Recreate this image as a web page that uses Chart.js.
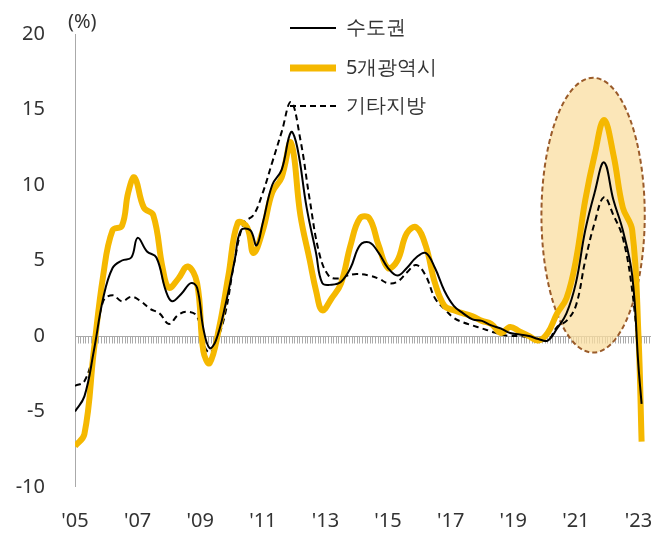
<!DOCTYPE html><html><head><meta charset="utf-8">
<script src="https://cdn.jsdelivr.net/npm/chart.js@4"></script>
<style>body{margin:0;background:#fff}#w{width:672px;height:538px}</style></head><body><div id="w"><canvas id="c"></canvas></div>
<script>
const capitalX=[2005.0,2005.3,2005.6,2005.9,2006.2,2006.5,2006.8,2007.0,2007.3,2007.6,2007.9,2008.1,2008.4,2008.7,2008.9,2009.1,2009.3,2009.5,2009.8,2010.1,2010.3,2010.6,2010.8,2011.0,2011.3,2011.6,2011.9,2012.1,2012.4,2012.7,2012.9,2013.2,2013.5,2013.8,2014.1,2014.4,2014.7,2015.0,2015.3,2015.6,2015.9,2016.2,2016.5,2016.8,2017.1,2017.4,2017.7,2018.0,2018.3,2018.6,2018.9,2019.2,2019.5,2019.8,2020.1,2020.4,2020.7,2021.0,2021.3,2021.6,2021.9,2022.2,2022.5,2022.8,2023.0,2023.1];
const capitalY=[-5,-4,-1,2.5,4.5,5,5.2,6.5,5.6,5.2,3,2.3,2.8,3.5,3.2,0.5,-0.8,-0.3,2,5,7,7,6,7.5,10,11,13.5,12.5,8.5,5.5,3.5,3.4,3.6,4.5,6,6.2,5.5,4.5,4,4.5,5.2,5.5,4.5,3,2,1.5,1.1,1,0.7,0.5,0.2,0.1,0,-0.2,-0.3,0.5,1.5,3.5,7,9.5,11.5,9,7,4,-2,-4.5];
const metroX=[2005.0,2005.3,2005.6,2005.9,2006.2,2006.5,2006.7,2006.9,2007.2,2007.5,2007.8,2008.0,2008.3,2008.6,2008.9,2009.1,2009.3,2009.6,2009.9,2010.2,2010.5,2010.7,2011.0,2011.3,2011.6,2011.9,2012.2,2012.5,2012.7,2012.9,2013.2,2013.5,2013.8,2014.1,2014.4,2014.7,2015.0,2015.3,2015.6,2015.9,2016.2,2016.5,2016.8,2017.1,2017.4,2017.7,2018.0,2018.3,2018.6,2018.9,2019.2,2019.5,2019.8,2020.1,2020.4,2020.7,2021.0,2021.3,2021.6,2021.9,2022.2,2022.5,2022.8,2023.0,2023.1];
const metroY=[-7.3,-6.5,-1,4,7,7.3,9.5,10.5,8.5,8,4.5,3.2,3.8,4.6,3.5,-1,-1.8,0.5,4,7.5,7.2,5.5,7,9.5,10.5,12.8,8,5,3,1.7,2.5,3.5,6,7.8,7.8,6,4.5,5,6.8,7.2,6,3.5,2,1.7,1.5,1.3,1,0.8,0.2,0.6,0.3,0,-0.3,0.2,1.5,2.5,5,9,12,14.3,12,8.5,7,0,-7];
const otherX=[2005.0,2005.3,2005.6,2005.9,2006.2,2006.5,2006.8,2007.1,2007.4,2007.7,2008.0,2008.3,2008.6,2008.9,2009.1,2009.3,2009.5,2009.8,2010.1,2010.4,2010.7,2011.0,2011.3,2011.6,2011.9,2012.2,2012.5,2012.8,2013.1,2013.4,2013.7,2014.0,2014.4,2014.7,2015.0,2015.3,2015.6,2015.9,2016.2,2016.5,2016.8,2017.1,2017.4,2017.7,2018.0,2018.3,2018.6,2018.9,2019.2,2019.5,2019.8,2020.1,2020.4,2020.7,2021.0,2021.3,2021.6,2021.9,2022.2,2022.5,2022.8,2023.0,2023.1];
const otherY=[-3.3,-3,-1,2.3,2.7,2.3,2.6,2.3,1.8,1.5,0.8,1.4,1.6,1.3,-0.5,-1.1,-0.5,1.5,5,7.5,8,9.5,11.5,13.5,15.5,13,9,5.5,4,3.8,4,4.1,4,3.8,3.5,3.6,4.2,4.7,4,2.5,1.8,1.2,0.9,0.7,0.5,0.3,0.1,0,0,-0.1,-0.2,-0.3,0.6,1,2,5,7.5,9.2,8,6.5,3,-1.5,-4.5];
const seriesNames=['수도권','5개광역시','기타지방'];
const xTickYears=[2005,2007,2009,2011,2013,2015,2017,2019,2021,2023];
const yTicks=[-10,-5,0,5,10,15,20];
const pts=(xs,ys)=>xs.map((x,i)=>({x,y:ys[i]}));
const F='"Noto Sans", sans-serif';
const deco={id:'deco',
 beforeDatasetsDraw(c){const ctx=c.ctx,x=c.scales.x,y=c.scales.y,a=c.chartArea;
  ctx.save();
  ctx.strokeStyle='#aaa';ctx.lineWidth=1;
  ctx.beginPath();ctx.moveTo(a.left+0.5,a.top);ctx.lineTo(a.left+0.5,a.bottom);ctx.stroke();
  const y0=Math.round(y.getPixelForValue(0))+0.5;
  ctx.beginPath();ctx.moveTo(a.left,y0);ctx.lineTo(a.right,y0);
  for(let m=2005*12+1;m<=2023*12+4;m++){const px=Math.round(x.getPixelForValue(m/12))+0.5;ctx.moveTo(px,y0);ctx.lineTo(px,y0+7);}
  ctx.stroke();
  const cx=x.getPixelForValue(2021.55),cy=y.getPixelForValue(8);
  const rx=x.getPixelForValue(2023.2)-cx,ry=cy-y.getPixelForValue(17.1);
  ctx.beginPath();ctx.ellipse(cx,cy,rx,ry,0,0,Math.PI*2);
  ctx.fillStyle='rgba(250,222,160,0.75)';ctx.fill();
  ctx.setLineDash([5,3]);ctx.strokeStyle='#9a5b2a';ctx.lineWidth=2;ctx.stroke();
  ctx.restore();},
 afterDraw(c){const ctx=c.ctx;ctx.save();
  ctx.font='20px '+F;ctx.fillStyle='#333';ctx.textBaseline='middle';ctx.textAlign='left';
  ctx.fillText('(%)',68,22);
  const rows=[[28,'#000',2,[]],[68,'#f5b800',7,[]],[106,'#000',2,[6,4]]];
  rows.forEach((r,i)=>{ctx.strokeStyle=r[1];ctx.lineWidth=r[2];ctx.setLineDash(r[3]);
   ctx.beginPath();ctx.moveTo(290,r[0]);ctx.lineTo(336,r[0]);ctx.stroke();
   ctx.fillText(seriesNames[i],346,r[0]);});
  ctx.restore();}};
new Chart(document.getElementById('c'),{type:'line',
 data:{datasets:[
  {label:seriesNames[2],data:pts(otherX,otherY),borderColor:'#000',borderWidth:2,borderDash:[6,4],pointRadius:0,tension:0.4,order:3},
  {label:seriesNames[1],data:pts(metroX,metroY),borderColor:'#f5b800',borderWidth:6,pointRadius:0,tension:0.4,order:2},
  {label:seriesNames[0],data:pts(capitalX,capitalY),borderColor:'#000',borderWidth:2,pointRadius:0,tension:0.4,order:1}]},
 options:{responsive:true,maintainAspectRatio:false,animation:false,
  layout:{padding:{top:8,right:21,left:0,bottom:0}},
  plugins:{legend:{display:false},tooltip:{enabled:false}},
  scales:{
   x:{type:'linear',min:2005,max:2023.4,grid:{display:false},border:{display:false},
    afterBuildTicks(s){s.ticks=xTickYears.map(v=>({value:v}));},
    afterFit(s){s.height=51;},
    ticks:{autoSkip:false,maxRotation:0,padding:14,color:'#333',font:{family:F,size:20},callback:v=>"'"+String(v).slice(2)}},
   y:{min:-10,max:20,grid:{display:false},border:{display:false},
    afterBuildTicks(s){s.ticks=yTicks.map(v=>({value:v}));},
    afterFit(s){s.width=75;},
    ticks:{padding:22,color:'#333',font:{family:F,size:20}}}}},
 plugins:[deco]});
</script></body></html>
